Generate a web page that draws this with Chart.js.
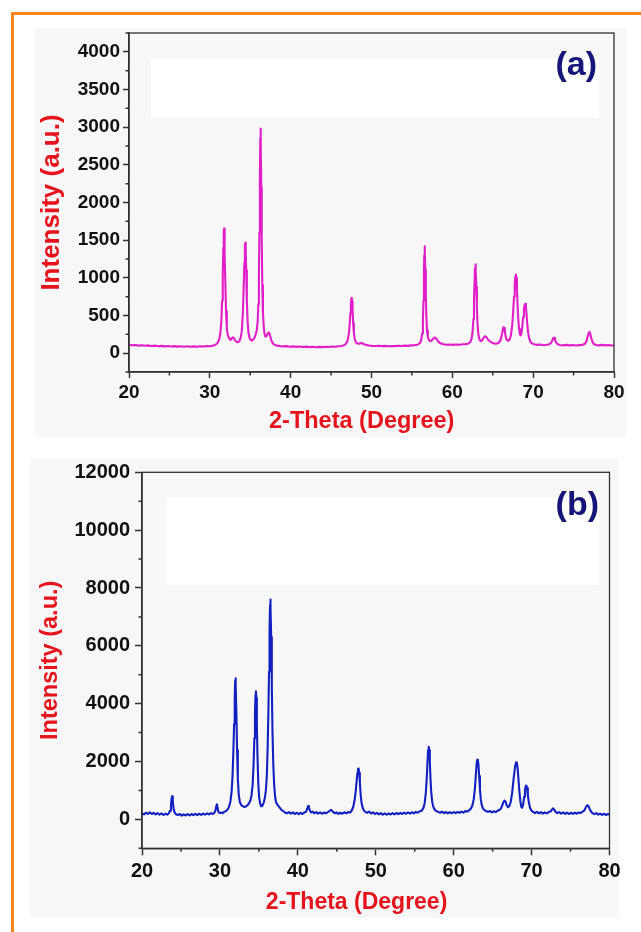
<!DOCTYPE html>
<html>
<head>
<meta charset="utf-8">
<script src="https://cdn.jsdelivr.net/npm/chart.js@4.4.1/dist/chart.umd.min.js"></script>
<style>
  html, body { margin: 0; padding: 0; background: #fff; }
  body { position: relative; width: 641px; height: 932px; overflow: hidden; font-family: 'Liberation Sans', Arial, sans-serif; }
  .abs { position: absolute; }
  .frame-orange { left: 11px; top: 12px; width: 640px; height: 940px; border-top: 3px solid #f5841f; border-left: 3px solid #f5841f; }
  .panel { background: #f7f7f7; }
  .blank { background: #ffffff; }
  .tag { font-weight: bold; font-size: 34px; line-height: 1; color: #15157a; }
</style>
</head>
<body>
<div class="abs frame-orange"></div>

<!-- panel (a) -->
<div class="abs panel" style="left:35px; top:28px; width:591px; height:410px;"></div>
<div class="abs blank" style="left:151px; top:59px; width:448px; height:59px;"></div>
<div class="abs" style="left:0; top:0; width:641px; height:460px;"><canvas id="chartA"></canvas></div>
<div class="abs tag" style="right:44px; top:46px;">(a)</div>

<!-- panel (b) -->
<div class="abs panel" style="left:30px; top:459px; width:589px; height:459px;"></div>
<div class="abs blank" style="left:166px; top:497px; width:433px; height:88px;"></div>
<div class="abs" style="left:0; top:440px; width:641px; height:492px;"><canvas id="chartB"></canvas></div>
<div class="abs tag" style="right:42px; top:486px;">(b)</div>

<script>
// ── data ───────────────────────────────────────────────
const xTicks  = [20, 30, 40, 50, 60, 70, 80];
const xMinor  = [25, 35, 45, 55, 65, 75];
const yTicksA = [0, 500, 1000, 1500, 2000, 2500, 3000, 3500, 4000];
const yMinorA = [-250, 250, 750, 1250, 1750, 2250, 2750, 3250, 3750, 4250];
const yTicksB = [0, 2000, 4000, 6000, 8000, 10000, 12000];
const yMinorB = [-1000, 1000, 3000, 5000, 7000, 9000, 11000];

// (a) 2-theta, intensity
const patternA = [
  [20.0,112],[20.4,104],[20.8,109],[21.2,100],[21.6,106],[22.0,98],[22.4,103],[22.8,95],[23.2,100],[23.6,92],
  [24.0,97],[24.4,90],[24.8,95],[25.2,88],[25.6,93],[26.0,87],[26.4,92],[26.8,86],[27.2,91],[27.6,85],
  [28.0,90],[28.4,86],[28.8,92],[29.2,88],[29.6,94],[30.0,92],[30.4,100],[30.7,112],[30.95,135],[31.15,180],
  [31.3,260],[31.42,420],[31.52,700],[31.6,1050],[31.67,1400],[31.72,1600],[31.76,1655],[31.8,1600],[31.86,1300],[31.93,900],
  [32.0,560],[32.1,340],[32.22,240],[32.4,195],[32.55,175],[32.7,195],[32.85,210],[32.98,200],[33.12,170],[33.3,150],
  [33.48,145],[33.65,160],[33.8,200],[33.95,290],[34.08,520],[34.18,850],[34.27,1200],[34.34,1420],[34.39,1465],[34.44,1380],
  [34.5,1100],[34.58,700],[34.67,420],[34.78,270],[34.92,200],[35.05,175],[35.2,168],[35.35,180],[35.5,200],[35.65,240],
  [35.8,300],[35.92,420],[36.0,650],[36.07,1000],[36.13,1600],[36.19,2300],[36.24,2850],[36.27,2980],[36.31,2800],[36.36,2200],
  [36.42,1500],[36.49,900],[36.57,550],[36.66,360],[36.76,260],[36.88,220],[37.0,225],[37.12,250],[37.25,275],[37.36,268],
  [37.48,220],[37.62,165],[37.8,130],[38.0,112],[38.3,100],[38.7,94],[39.1,90],[39.5,93],[39.9,86],[40.3,90],
  [40.7,84],[41.1,88],[41.5,82],[41.9,87],[42.3,80],[42.7,85],[43.1,79],[43.5,84],[43.9,80],[44.3,86],
  [44.7,82],[45.1,88],[45.5,85],[45.9,92],[46.3,95],[46.6,105],[46.85,125],[47.05,170],[47.2,260],[47.3,380],
  [47.38,530],[47.45,660],[47.5,720],[47.55,735],[47.6,690],[47.66,560],[47.73,400],[47.82,270],[47.92,190],[48.05,150],
  [48.2,132],[48.4,125],[48.6,130],[48.8,135],[49.0,122],[49.3,110],[49.7,102],[50.1,97],[50.5,95],[50.9,99],
  [51.3,93],[51.7,97],[52.1,92],[52.5,96],[52.9,93],[53.3,98],[53.7,95],[54.1,100],[54.5,97],[54.9,103],
  [55.3,105],[55.7,112],[56.0,135],[56.15,175],[56.27,260],[56.36,430],[56.43,700],[56.49,1050],[56.53,1300],[56.57,1420],
  [56.61,1350],[56.66,1100],[56.72,760],[56.79,470],[56.87,300],[56.97,215],[57.1,175],[57.25,160],[57.4,165],[57.55,180],
  [57.7,200],[57.85,208],[58.0,195],[58.15,170],[58.35,145],[58.6,128],[58.9,118],[59.3,112],[59.7,115],[60.1,110],
  [60.5,116],[60.9,112],[61.3,118],[61.7,120],[62.0,128],[62.2,145],[62.38,190],[62.5,280],[62.6,450],[62.68,700],
  [62.75,950],[62.81,1130],[62.86,1178],[62.91,1100],[62.97,880],[63.04,600],[63.12,380],[63.22,250],[63.35,185],[63.5,160],
  [63.65,165],[63.8,190],[63.95,215],[64.08,225],[64.2,215],[64.35,190],[64.55,165],[64.8,145],[65.1,130],[65.4,125],
  [65.7,135],[65.95,170],[66.1,230],[66.22,300],[66.32,345],[66.4,335],[66.5,280],[66.62,210],[66.78,170],[66.95,165],
  [67.1,185],[67.25,240],[67.4,360],[67.52,540],[67.63,750],[67.72,920],[67.8,1020],[67.86,1045],[67.92,1000],[67.99,850],
  [68.07,640],[68.16,450],[68.26,320],[68.36,250],[68.46,235],[68.56,270],[68.66,360],[68.76,480],[68.86,590],[68.95,640],
  [69.03,655],[69.1,620],[69.18,520],[69.27,390],[69.37,280],[69.5,200],[69.65,155],[69.85,130],[70.1,118],[70.5,110],
  [70.9,114],[71.3,106],[71.7,112],[72.0,118],[72.2,135],[72.35,165],[72.48,200],[72.58,205],[72.7,175],[72.85,140],
  [73.05,118],[73.3,108],[73.7,104],[74.1,110],[74.5,103],[74.9,108],[75.3,102],[75.7,107],[76.1,110],[76.4,125],
  [76.6,160],[76.75,220],[76.88,270],[76.97,282],[77.07,255],[77.2,195],[77.35,145],[77.55,118],[77.8,108],[78.1,103],
  [78.5,110],[78.9,104],[79.3,108],[79.7,102],[80.0,106]
];

// (b) 2-theta, intensity
const patternB = [
  [20.0,210],[20.25,175],[20.5,230],[20.75,190],[21.0,240],[21.25,185],[21.5,225],[21.75,170],[22.0,215],[22.25,160],
  [22.5,205],[22.75,150],[23.0,195],[23.25,165],[23.45,210],[23.6,300],[23.72,520],[23.82,760],[23.88,800],[23.95,640],
  [24.05,380],[24.18,240],[24.35,180],[24.6,150],[24.85,185],[25.1,130],[25.35,175],[25.6,135],[25.85,180],[26.1,140],
  [26.35,185],[26.6,145],[26.85,190],[27.1,150],[27.35,195],[27.6,155],[27.85,200],[28.1,165],[28.35,210],[28.6,170],
  [28.85,215],[29.1,185],[29.3,230],[29.45,330],[29.55,480],[29.62,520],[29.7,400],[29.8,260],[29.95,215],[30.15,240],
  [30.35,215],[30.55,260],[30.75,280],[30.95,330],[31.15,420],[31.35,620],[31.5,950],[31.62,1500],[31.72,2300],[31.82,3300],
  [31.9,4200],[31.96,4800],[32.0,4880],[32.05,4600],[32.12,3600],[32.2,2400],[32.3,1400],[32.42,850],[32.56,600],[32.72,500],
  [32.9,460],[33.1,430],[33.3,440],[33.5,480],[33.7,540],[33.9,640],[34.05,820],[34.2,1200],[34.32,1900],[34.42,2800],
  [34.5,3700],[34.57,4300],[34.62,4430],[34.67,4200],[34.74,3300],[34.82,2200],[34.92,1300],[35.02,800],[35.15,560],[35.3,450],
  [35.45,470],[35.6,560],[35.75,720],[35.9,1000],[36.02,1500],[36.12,2400],[36.22,3700],[36.3,5100],[36.37,6500],[36.43,7400],
  [36.47,7600],[36.52,7300],[36.58,6300],[36.66,4600],[36.75,3000],[36.85,1900],[36.96,1200],[37.08,800],[37.2,600],[37.35,520],
  [37.5,470],[37.7,400],[37.9,330],[38.1,290],[38.35,240],[38.6,210],[38.85,250],[39.1,195],[39.35,240],[39.6,185],
  [39.85,230],[40.1,180],[40.35,225],[40.6,185],[40.85,240],[41.05,260],[41.2,360],[41.32,460],[41.42,420],[41.55,300],
  [41.7,240],[41.9,270],[42.1,210],[42.35,250],[42.6,200],[42.85,240],[43.1,195],[43.35,235],[43.6,210],[43.85,250],
  [44.05,290],[44.25,330],[44.45,280],[44.7,210],[44.95,240],[45.2,190],[45.45,230],[45.7,195],[45.95,245],[46.2,210],
  [46.45,250],[46.7,240],[46.9,300],[47.1,420],[47.28,650],[47.42,950],[47.54,1300],[47.64,1600],[47.72,1740],[47.8,1760],
  [47.88,1600],[47.96,1280],[48.05,900],[48.16,600],[48.3,420],[48.45,320],[48.65,260],[48.9,230],[49.15,270],[49.4,205],
  [49.65,240],[49.9,185],[50.15,225],[50.4,175],[50.65,215],[50.9,165],[51.15,210],[51.4,160],[51.65,205],[51.9,170],
  [52.15,215],[52.4,175],[52.65,220],[52.9,180],[53.15,225],[53.4,185],[53.65,235],[53.9,195],[54.15,240],[54.4,200],
  [54.65,245],[54.9,210],[55.15,260],[55.4,230],[55.65,280],[55.9,300],[56.1,380],[56.28,560],[56.42,900],[56.54,1400],
  [56.64,2000],[56.72,2400],[56.8,2510],[56.87,2400],[56.94,2000],[57.02,1450],[57.12,950],[57.24,620],[57.38,440],[57.55,340],
  [57.75,290],[58.0,260],[58.25,230],[58.5,270],[58.75,215],[59.0,255],[59.25,205],[59.5,250],[59.75,210],[60.0,255],
  [60.25,215],[60.5,260],[60.75,225],[61.0,270],[61.25,235],[61.5,285],[61.75,270],[62.0,320],[62.2,370],[62.4,480],
  [62.58,700],[62.72,1050],[62.84,1500],[62.94,1900],[63.02,2060],[63.1,2070],[63.18,1900],[63.27,1500],[63.37,1050],[63.48,700],
  [63.62,480],[63.78,370],[63.95,320],[64.15,290],[64.4,260],[64.65,290],[64.9,240],[65.15,280],[65.4,250],[65.65,300],
  [65.9,330],[66.1,390],[66.28,520],[66.42,620],[66.55,650],[66.68,600],[66.82,480],[66.98,420],[67.15,460],[67.32,600],
  [67.5,900],[67.65,1300],[67.8,1650],[67.92,1880],[68.02,1970],[68.1,1960],[68.2,1800],[68.3,1450],[68.42,1000],[68.55,650],
  [68.68,430],[68.8,400],[68.92,520],[69.04,780],[69.15,1020],[69.25,1150],[69.33,1170],[69.42,1080],[69.52,850],[69.65,580],
  [69.8,400],[69.98,300],[70.2,260],[70.45,220],[70.7,260],[70.95,210],[71.2,250],[71.45,200],[71.7,245],[71.95,205],
  [72.2,250],[72.45,280],[72.62,340],[72.78,380],[72.92,330],[73.08,260],[73.3,215],[73.55,250],[73.8,195],[74.05,240],
  [74.3,190],[74.55,235],[74.8,185],[75.05,230],[75.3,190],[75.55,235],[75.8,195],[76.05,240],[76.3,220],[76.55,270],
  [76.75,300],[76.9,380],[77.05,460],[77.18,490],[77.3,460],[77.45,360],[77.6,280],[77.8,215],[78.05,180],[78.3,215],
  [78.55,165],[78.8,200],[79.05,155],[79.3,195],[79.55,150],[79.8,185],[80.0,160]
];

// ── styles ──────────────────────────────────────────────
const FONT  = "'Liberation Sans', Arial, sans-serif";
const RED   = '#e5141c';
const INK   = '#111111';
const AXIS  = '#333333';

// frame on top/right + short minor ticks (Origin-style)
const frameMinor = {
  id: 'frameMinor',
  afterDraw(chart, args, opts) {
    const { ctx, chartArea: a, scales: { x, y } } = chart;
    ctx.save();
    ctx.strokeStyle = AXIS;
    ctx.lineWidth = 1.3;
    ctx.strokeRect(a.left, a.top, a.right - a.left, a.bottom - a.top);
    ctx.beginPath();
    opts.minorX.forEach(v => {
      const px = x.getPixelForValue(v);
      ctx.moveTo(px, a.bottom);
      ctx.lineTo(px, a.bottom + opts.len);
    });
    opts.minorY.forEach(v => {
      const py = y.getPixelForValue(v);
      ctx.moveTo(a.left, py);
      ctx.lineTo(a.left - opts.len, py);
    });
    ctx.lineWidth = 1.5;
    ctx.stroke();
    ctx.restore();
  }
};

function makeChart(id, cfg) {
  const ctx = document.getElementById(id).getContext('2d');
  return new Chart(ctx, {
    type: 'scatter',
    data: {
      datasets: [{
        data: cfg.pattern.map(([x, y]) => ({ x, y })),
        showLine: true,
        borderColor: cfg.color,
        borderWidth: cfg.lineWidth,
        borderJoinStyle: 'round',
        pointRadius: 0,
        tension: 0
      }]
    },
    options: {
      responsive: true,
      maintainAspectRatio: false,
      devicePixelRatio: 1,
      animation: false,
      events: [],
      layout: { padding: cfg.padding },
      plugins: {
        legend: { display: false },
        tooltip: { enabled: false },
        frameMinor: { minorX: xMinor, minorY: cfg.minorY, len: 3.5 }
      },
      scales: {
        x: {
          type: 'linear',
          min: 20,
          max: 80,
          afterBuildTicks: s => { s.ticks = xTicks.map(v => ({ value: v })); },
          afterFit: s => { s.height = cfg.xHeight; },
          border: { display: true, color: AXIS, width: 1.5 },
          grid: { drawOnChartArea: false, drawTicks: true, tickLength: cfg.tickLen, tickColor: AXIS, tickWidth: 1.5 },
          ticks: {
            color: INK, padding: cfg.xPad, maxRotation: 0,
            font: { family: FONT, weight: 'bold', size: cfg.xTickSize },
            callback: v => String(v)
          },
          title: {
            display: true,
            text: cfg.xTitle,
            color: RED,
            padding: { top: 0, bottom: cfg.xTitlePad },
            font: { family: FONT, weight: 'bold', size: cfg.titleSize }
          }
        },
        y: {
          type: 'linear',
          min: cfg.yMin,
          max: cfg.yMax,
          afterBuildTicks: s => { s.ticks = cfg.yTicks.map(v => ({ value: v })); },
          afterFit: s => { s.width = cfg.yWidth; },
          border: { display: true, color: AXIS, width: 1.5 },
          grid: { drawOnChartArea: false, drawTicks: true, tickLength: cfg.tickLen, tickColor: AXIS, tickWidth: 1.5 },
          ticks: {
            color: INK, padding: cfg.yPad,
            font: { family: FONT, weight: 'bold', size: cfg.yTickSize },
            callback: v => String(v)
          },
          title: {
            display: true,
            text: 'Intensity (a.u.)',
            color: RED,
            padding: { top: cfg.yTitlePad, bottom: 0 },
            font: { family: FONT, weight: 'bold', size: cfg.yTitleSize }
          }
        }
      }
    },
    plugins: [frameMinor]
  });
}

makeChart('chartA', {
  pattern: patternA,
  color: '#e11ec9',
  lineWidth: 2.1,
  padding: { left: 0, right: 27, top: 33, bottom: 0 },
  yMin: -250, yMax: 4250, yTicks: yTicksA, minorY: yMinorA,
  yWidth: 129, xHeight: 88,
  tickLen: 6, xPad: 3, yPad: 3,
  xTickSize: 19, yTickSize: 19,
  titleSize: 23.5, yTitleSize: 26,
  xTitle: '2-Theta (Degree)   ',
  xTitlePad: 24, yTitlePad: 36
});

makeChart('chartB', {
  pattern: patternB,
  color: '#1220c2',
  lineWidth: 2.1,
  padding: { left: 0, right: 31.5, top: 32.3, bottom: 0 },
  yMin: -1000, yMax: 12000, yTicks: yTicksB, minorY: yMinorB,
  yWidth: 142, xHeight: 83.7,
  tickLen: 7, xPad: 4, yPad: 5,
  xTickSize: 20, yTickSize: 20,
  titleSize: 23, yTitleSize: 23.5,
  xTitle: '2-Theta (Degree)      ',
  xTitlePad: 16, yTitlePad: 36
});
</script>
</body>
</html>
